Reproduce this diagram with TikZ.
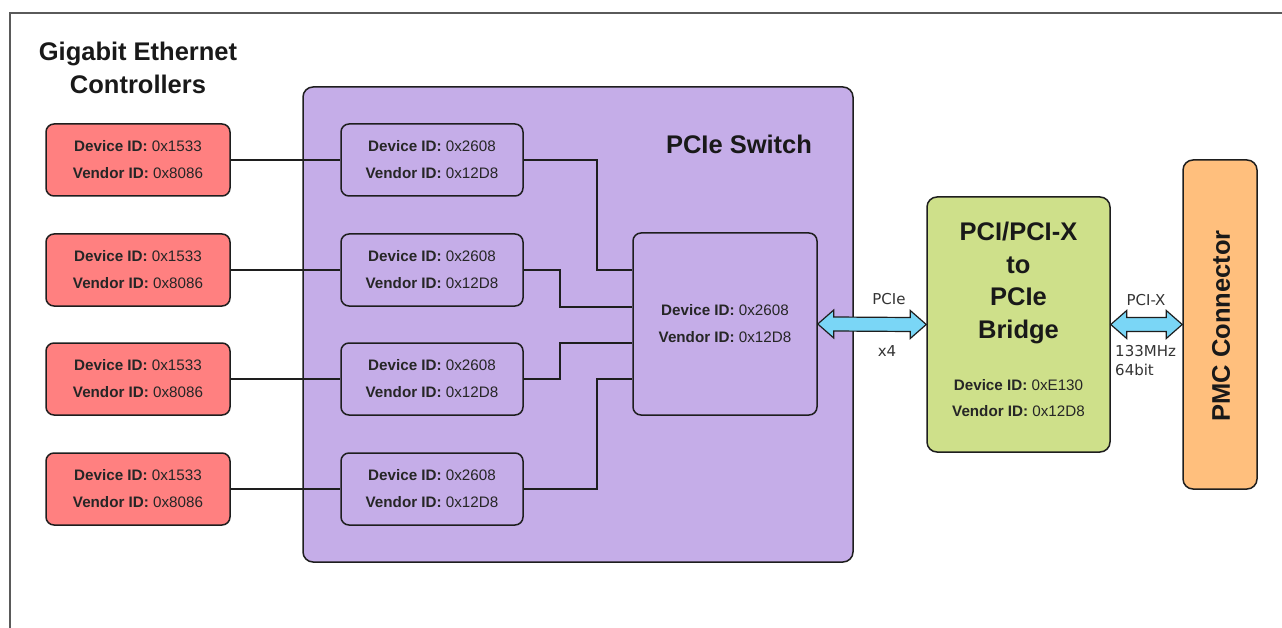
\documentclass[tikz,border=0pt]{standalone}
\usepackage{fontspec}
\setmainfont{Liberation Sans}
\newfontfamily\labfont{DejaVu Sans}
\usetikzlibrary{calc}
\definecolor{redfill}{RGB}{255,128,128}
\definecolor{purfill}{RGB}{197,173,232}
\definecolor{grnfill}{RGB}{206,224,138}
\definecolor{orgfill}{RGB}{255,191,125}
\definecolor{cyanfill}{RGB}{122,214,246}
\definecolor{edge}{RGB}{30,30,30}
\definecolor{framecol}{RGB}{90,90,90}
\tikzset{
  box/.style={draw=edge, line width=1.5pt, rounded corners=8pt, inner sep=0pt, align=center,
    font=\fontsize{15.2}{27}\selectfont, text=black!85},
  ctrl/.style={box, fill=redfill, minimum width=184pt, minimum height=72pt},
  port/.style={box, fill=purfill, minimum width=182pt, minimum height=72pt},
  wire/.style={draw=edge, line width=1.5pt},
  bus/.style={draw=edge, line width=1.2pt, fill=cyanfill, line join=miter},
  title/.style={font=\bfseries\fontsize{25.5}{33}\selectfont, align=center, text=black!90},
  lab/.style={font=\labfont\fontsize{15}{19}\selectfont, text=black!80}
}
\newcommand{\ids}[2]{\textbf{Device ID:} #1\\\textbf{Vendor ID:} #2}
\begin{document}
\begin{tikzpicture}[x=1pt,y=-1pt]
\useasboundingbox (0,0) rectangle (1282,628);
\draw[framecol, line width=1.5pt] (10,640) -- (10,13) -- (1290,13);

\node[title] (gtitle) at (138,68) {Gigabit Ethernet\\Controllers};

% PCIe switch
\node[draw=edge, line width=1.5pt, fill=purfill, rounded corners=10pt,
      minimum width=550pt, minimum height=475pt, inner sep=0pt] (sw) at (578,324.5) {};
\node[title] (swt) at (739,144) {PCIe Switch};

\foreach \i/\y in {1/160,2/270,3/379,4/489}{
  \node[ctrl] (r\i) at (138,\y) {\ids{0x1533}{0x8086}};
  \node[port] (s\i) at (432,\y) {\ids{0x2608}{0x12D8}};
  \draw[wire] (r\i.east) -- (s\i.west);
}
\node[port, minimum width=184pt, minimum height=182pt] (c) at (725,324) {\ids{0x2608}{0x12D8}};

\draw[wire] (s1.east) -| (597,270) -- (c.west |- 0,270);
\draw[wire] (s2.east) -| (560,307) -- (c.west |- 0,307);
\draw[wire] (s3.east) -| (560,343) -- (c.west |- 0,343);
\draw[wire] (s4.east) -| (597,379) -- (c.west |- 0,379);

% bridge
\node[draw=edge, line width=1.5pt, fill=grnfill, rounded corners=10pt,
      minimum width=183pt, minimum height=255pt, inner sep=0pt] (g) at (1018.5,324.5) {};
\node[title, font=\bfseries\fontsize{25.5}{32.5}\selectfont] (gt) at (1018.5,283) {PCI/PCI-X\\to\\PCIe\\Bridge};
\node[align=center, font=\fontsize{15.2}{26}\selectfont, text=black!85] (gid) at (1018.5,398) {\ids{0xE130}{0x12D8}};

% PMC
\node[draw=edge, line width=1.5pt, fill=orgfill, rounded corners=10pt,
      minimum width=74pt, minimum height=329pt, inner sep=0pt] (p) at (1220,324.5) {};
\node[title, rotate=90] (pt) at (1221,326) {PMC Connector};

% buses
\draw[bus] (c.east) -- ++(16,-14) -- ++(0,7) -- ($(g.west)+(-16,-7)$) -- ++(0,-7) -- (g.west)
  -- ++(-16,14) -- ++(0,-7) -- ($(c.east)+(16,7)$) -- ++(0,7) -- cycle;
\draw[bus] (g.east) -- ++(16,-14) -- ++(0,7) -- ($(p.west)+(-16,-7)$) -- ++(0,-7) -- (p.west)
  -- ++(-16,14) -- ++(0,-7) -- ($(g.east)+(16,7)$) -- ++(0,7) -- cycle;

\node[lab] (l1) at (889,299) {PCIe};
\node[lab] (l2) at (887,351) {x4};
\node[lab] (l3) at (1146,300) {PCI-X};
\node[lab, align=left, anchor=west, inner sep=0pt] (l4) at (1115,361) {133MHz\\64bit};
\end{tikzpicture}
\end{document}
